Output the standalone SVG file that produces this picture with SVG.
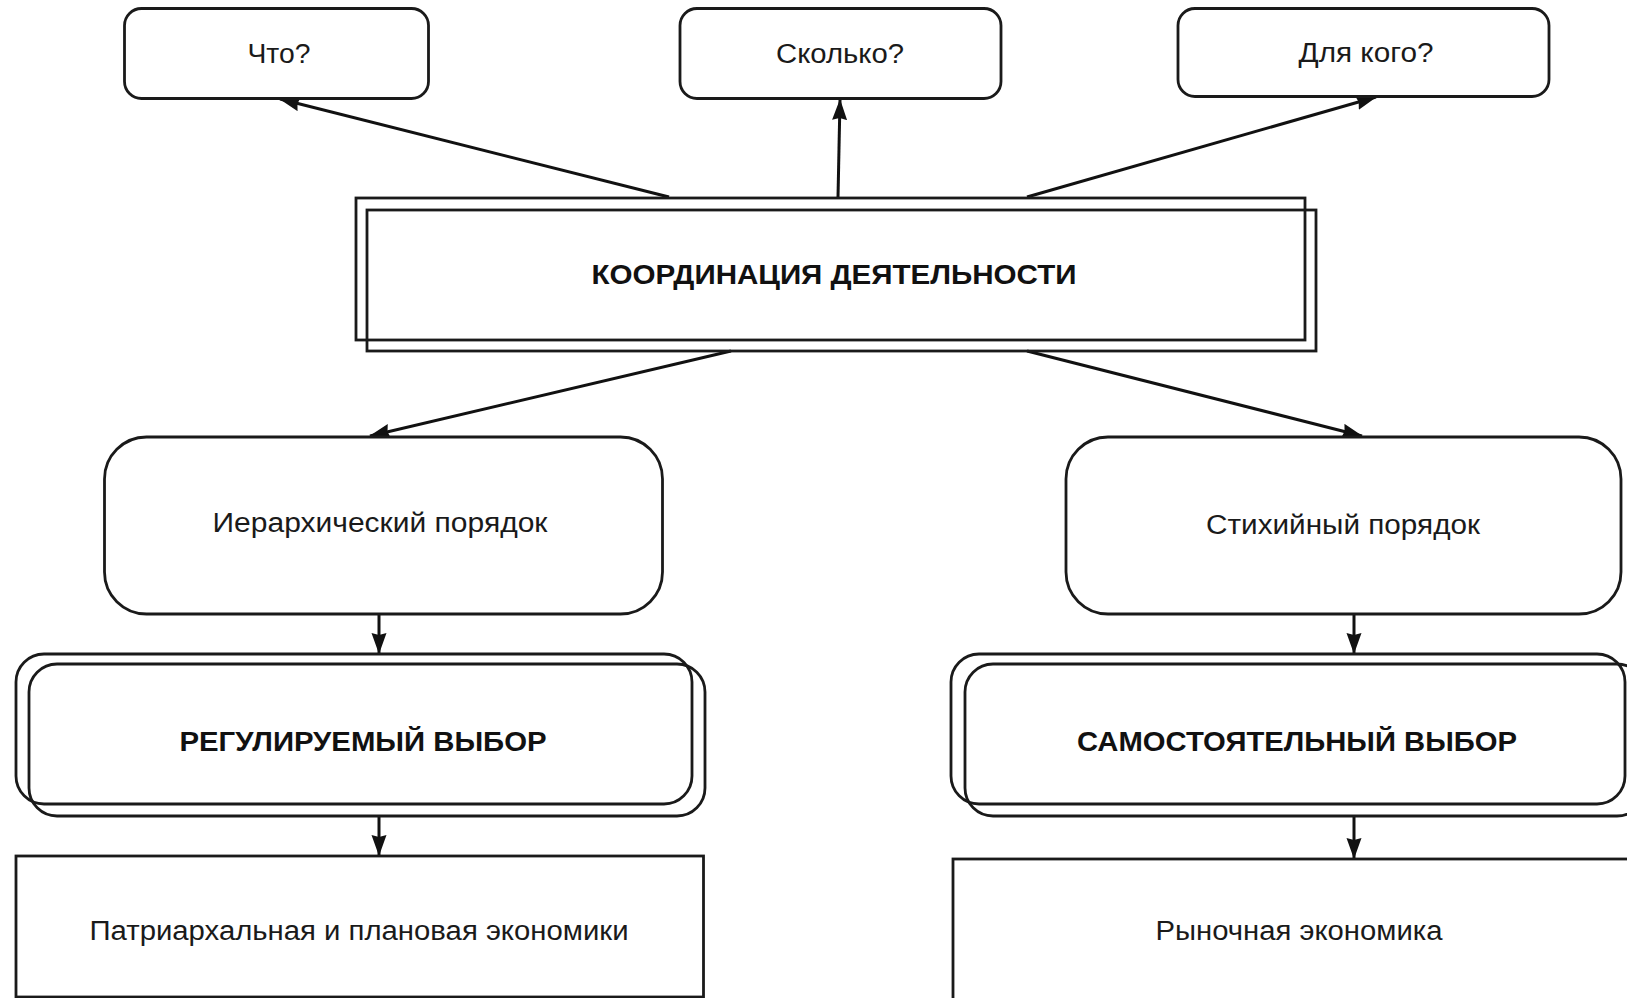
<svg xmlns="http://www.w3.org/2000/svg" width="1627" height="998" viewBox="0 0 1627 998">
<defs>
<marker id="ah" viewBox="0 0 21 16" refX="20" refY="8" markerWidth="21" markerHeight="16" markerUnits="userSpaceOnUse" orient="auto">
<path d="M0,0.5 L21,8 L0,15.5 L2,8 Z" fill="#111"/>
</marker>
</defs>
<style>
.box{fill:#fff;stroke:#1a1a1a;stroke-width:2.8}
.bx2{fill:none;stroke:#1a1a1a;stroke-width:2.8}
.t{font-family:"Liberation Sans",Arial,sans-serif;font-size:27px;fill:#1a1a1a;text-anchor:middle}
.b{font-family:"Liberation Sans",Arial,sans-serif;font-size:27px;font-weight:bold;fill:#111;text-anchor:middle}
.c{fill:none;stroke:#111;stroke-width:3;marker-end:url(#ah)}
</style>
<rect width="1627" height="998" fill="#fff"/>

<g id="connectors">
<line class="c" x1="669" y1="197" x2="280" y2="99"/>
<line class="c" x1="838" y1="197" x2="840" y2="100"/>
<line class="c" x1="1027" y1="197" x2="1376" y2="97"/>
<line class="c" x1="731" y1="351" x2="370" y2="436"/>
<line class="c" x1="1027" y1="351" x2="1362" y2="436"/>
<line class="c" x1="379" y1="614" x2="379" y2="653"/>
<line class="c" x1="379" y1="817" x2="379" y2="855"/>
<line class="c" x1="1354" y1="614" x2="1354" y2="653"/>
<line class="c" x1="1354" y1="817" x2="1354" y2="858"/>
</g>

<g id="n-what">
<rect class="box" x="124.5" y="8.5" width="304" height="90" rx="17"/>
<text class="t" x="279" y="63" textLength="63" lengthAdjust="spacingAndGlyphs">Что?</text>
</g>
<g id="n-howmuch">
<rect class="box" x="680" y="8.5" width="321" height="90" rx="17"/>
<text class="t" x="840" y="63" textLength="128" lengthAdjust="spacingAndGlyphs">Сколько?</text>
</g>
<g id="n-forwhom">
<rect class="box" x="1178" y="8.5" width="371" height="88" rx="17"/>
<text class="t" x="1366" y="62" textLength="135" lengthAdjust="spacingAndGlyphs">Для кого?</text>
</g>

<g id="n-coord">
<rect class="box" x="356" y="198" width="949" height="142"/>
<rect class="bx2" x="367" y="210" width="949" height="141"/>
<text class="b" x="834" y="284" textLength="485" lengthAdjust="spacingAndGlyphs">КООРДИНАЦИЯ ДЕЯТЕЛЬНОСТИ</text>
</g>

<g id="n-hier">
<rect class="box" x="104.5" y="437" width="558" height="177" rx="42"/>
<text class="t" x="380" y="532" textLength="335" lengthAdjust="spacingAndGlyphs">Иерархический порядок</text>
</g>
<g id="n-spont">
<rect class="box" x="1066" y="437" width="555" height="177" rx="42"/>
<text class="t" x="1343" y="534" textLength="274" lengthAdjust="spacingAndGlyphs">Стихийный порядок</text>
</g>

<g id="n-regulated">
<rect class="box" x="16" y="654" width="676" height="150" rx="28"/>
<rect class="bx2" x="29" y="664" width="676" height="152" rx="28"/>
<text class="b" x="363" y="751" textLength="367" lengthAdjust="spacingAndGlyphs">РЕГУЛИРУЕМЫЙ ВЫБОР</text>
</g>
<g id="n-independent">
<rect class="box" x="951" y="654" width="674" height="150" rx="28"/>
<rect class="bx2" x="965" y="664" width="680" height="152" rx="28"/>
<text class="b" x="1297" y="751" textLength="440" lengthAdjust="spacingAndGlyphs">САМОСТОЯТЕЛЬНЫЙ ВЫБОР</text>
</g>

<g id="n-planned">
<rect class="box" x="16" y="856" width="687.5" height="141"/>
<text class="t" x="359" y="940" textLength="539" lengthAdjust="spacingAndGlyphs">Патриархальная и плановая экономики</text>
</g>
<g id="n-market">
<rect class="box" x="953" y="859" width="690" height="150"/>
<text class="t" x="1299" y="940" textLength="287" lengthAdjust="spacingAndGlyphs">Рыночная экономика</text>
</g>
</svg>
